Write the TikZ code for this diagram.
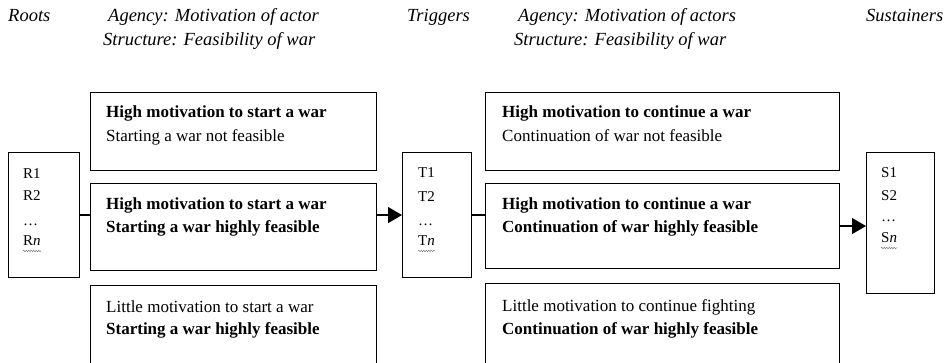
\documentclass[tikz,border=0pt]{standalone}
\usepackage{fontspec}
\setmainfont{Liberation Serif}
\usetikzlibrary{arrows.meta,decorations.pathmorphing}
\begin{document}
\begin{tikzpicture}[x=1pt,y=-1pt,
  box/.style={draw, line width=1.1pt, anchor=north west, inner sep=0pt},
  hdr/.style={anchor=base west, inner sep=0pt, font=\fontsize{18.5}{20}\selectfont\itshape},
  txt/.style={anchor=base west, inner sep=0pt, font=\fontsize{17}{20}\selectfont},
  btxt/.style={anchor=base west, inner sep=0pt, font=\fontsize{17}{20}\selectfont\bfseries},
  lst/.style={anchor=base west, inner sep=0pt, font=\fontsize{15}{18}\selectfont},
  conn/.style={line width=1.1pt},
  arr/.style={conn, -{Triangle[length=14pt,width=16pt]}},
  squig/.style={gray, line width=0.5pt, decorate, decoration={snake, amplitude=0.8pt, segment length=2.5pt}}
]
\useasboundingbox (0,0) rectangle (948,363);
\begin{scope}
\clip (0,0) rectangle (948,363);
% headers
\node[hdr] (h1) at (8,22) {Roots};
\node[hdr] (h2) at (108,22) {Agency: Motivation of actor};
\node[hdr] (h3) at (103,46) {Structure: Feasibility of war};
\node[hdr] (h4) at (407,22) {Triggers};
\node[hdr] (h5) at (518,22) {Agency: Motivation of actors};
\node[hdr] (h6) at (514,46) {Structure: Feasibility of war};
\node[hdr] (h7) at (866,22) {Sustainers};
% boxes
\node[box, minimum width=71pt, minimum height=125pt] (r) at (8,152) {};
\node[box, minimum width=286pt, minimum height=78pt] (tl) at (90,92) {};
\node[box, minimum width=286pt, minimum height=87pt] (ml) at (90,183) {};
\node[box, minimum width=286pt, minimum height=100pt] (bl) at (90,285) {};
\node[box, minimum width=69pt, minimum height=125pt] (t) at (402,152) {};
\node[box, minimum width=354pt, minimum height=78pt] (tr) at (485,92) {};
\node[box, minimum width=354pt, minimum height=85pt] (mr) at (485,183) {};
\node[box, minimum width=354pt, minimum height=100pt] (br) at (485,283) {};
\node[box, minimum width=68pt, minimum height=141pt] (s) at (866,152) {};
% list texts
\node[lst] (r1) at (23,179) {R1};
\node[lst] (r2) at (23,201) {R2};
\node[lst] (r3) at (23,226) {\dots};
\node[lst] (rn) at (23,246) {R\textit{n}};
\node[lst] (t1) at (418,178) {T1};
\node[lst] (t2) at (418,202) {T2};
\node[lst] (t3) at (418,226) {\dots};
\node[lst] (tn) at (418,246) {T\textit{n}};
\node[lst] (s1) at (881,178) {S1};
\node[lst] (s2) at (881,201) {S2};
\node[lst] (s3) at (881,222) {\dots};
\node[lst] (sn) at (881,243) {S\textit{n}};
\draw[squig] ([yshift=-5pt]rn.base west) -- ([yshift=-5pt]rn.base east);
\draw[squig] ([yshift=-5pt]tn.base west) -- ([yshift=-5pt]tn.base east);
\draw[squig] ([yshift=-5pt]sn.base west) -- ([yshift=-5pt]sn.base east);
% box texts
\node[btxt] (a1) at (106,118) {High motivation to start a war};
\node[txt]  (a2) at (106,142) {Starting a war not feasible};
\node[btxt] (b1) at (106,210) {High motivation to start a war};
\node[btxt] (b2) at (106,233) {Starting a war highly feasible};
\node[txt]  (c1) at (106,313) {Little motivation to start a war};
\node[btxt] (c2) at (106,335) {Starting a war highly feasible};
\node[btxt] (d1) at (502,118) {High motivation to continue a war};
\node[txt]  (d2) at (502,142) {Continuation of war not feasible};
\node[btxt] (e1) at (502,210) {High motivation to continue a war};
\node[btxt] (e2) at (502,233) {Continuation of war highly feasible};
\node[txt]  (f1) at (502,312) {Little motivation to continue fighting};
\node[btxt] (f2) at (502,335) {Continuation of war highly feasible};
% connectors
\draw[conn] (r.east) -- (ml.west |- r.east);
\draw[arr] (ml.east |- t.west) -- (t.west);
\draw[conn] (t.east) -- (mr.west |- t.east);
\draw[arr] (mr.east) -- (s.west |- mr.east);
\end{scope}
\end{tikzpicture}
\end{document}
